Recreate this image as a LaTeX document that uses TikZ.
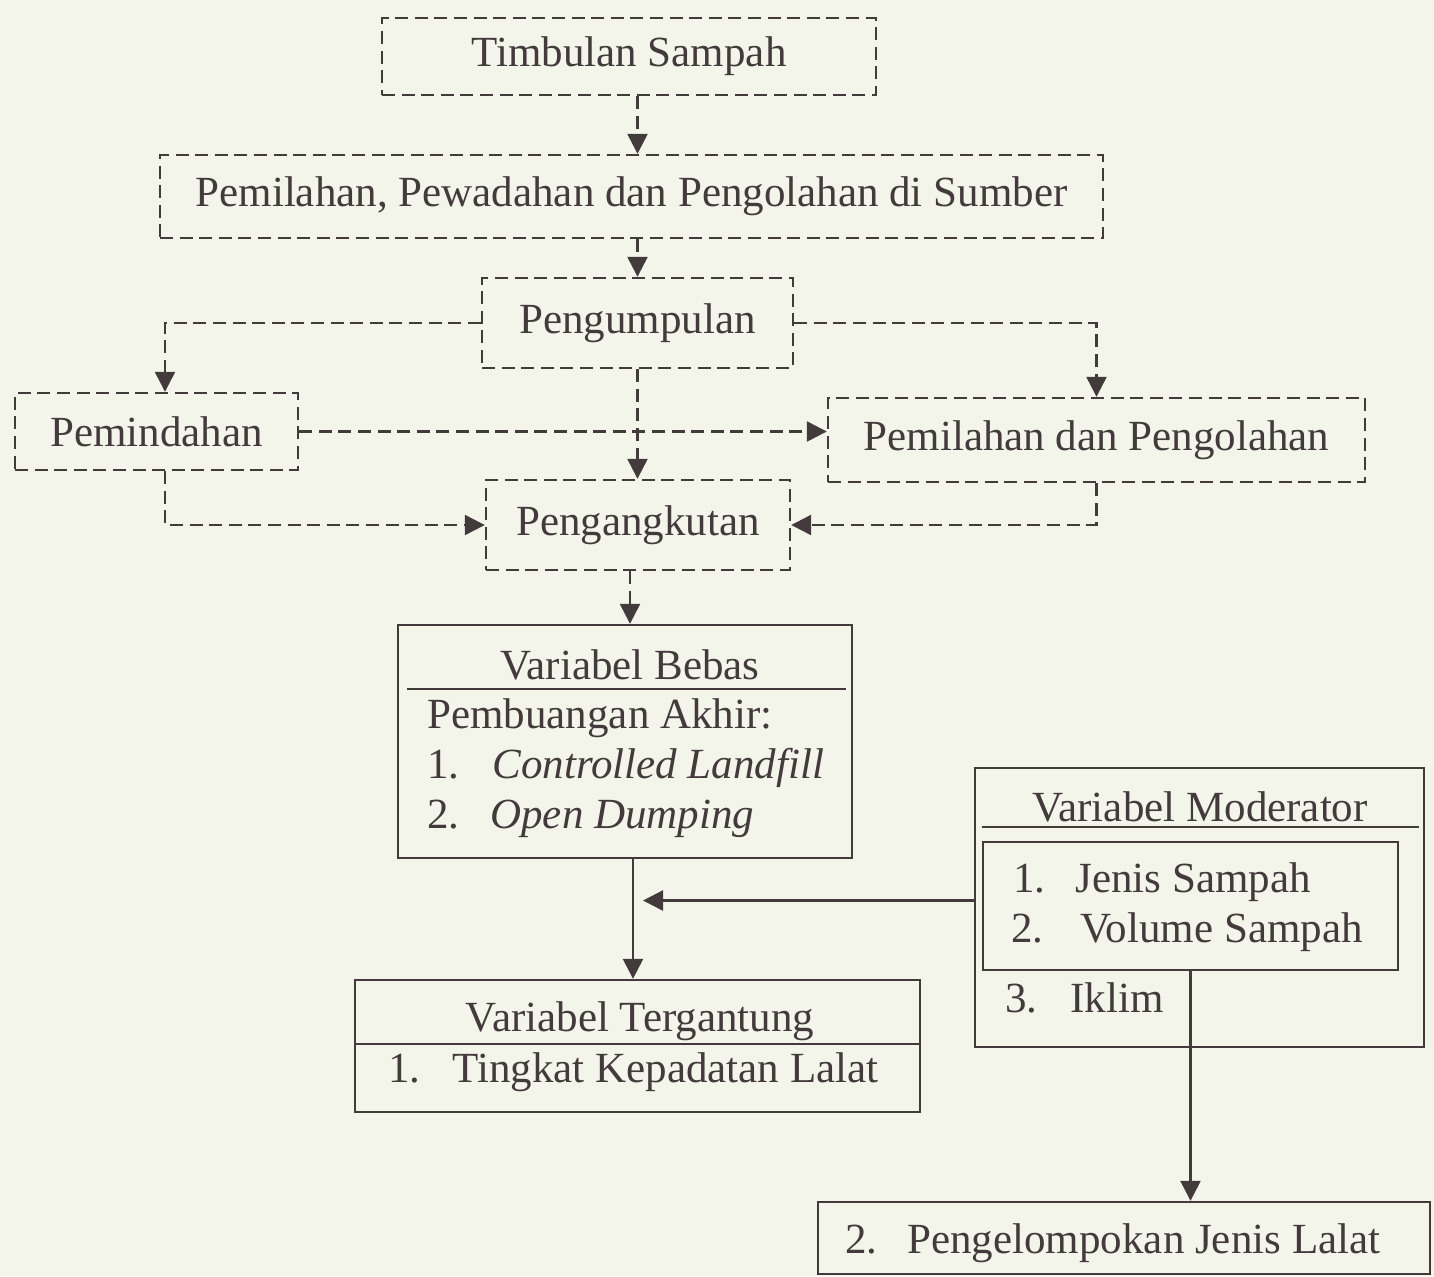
\documentclass[tikz,border=0pt]{standalone}
\usepackage{fontspec}
\setmainfont{Liberation Serif}
\usepackage{xcolor}
\usetikzlibrary{arrows.meta,positioning,calc}
\newcommand{\kfsize}{\fontsize{21.5}{25}\selectfont}
\definecolor{kfink}{HTML}{433A3C}
\definecolor{kfpaper}{HTML}{F3F5EB}
\tikzset{
  kfdashbox/.style={draw=kfink, line width=1.2pt, dash pattern=on 6.5pt off 3.3pt,
    inner sep=0pt, align=center},
  kfbox/.style={draw=kfink, line width=1.2pt, inner sep=0pt},
  kfdasharrow/.style={-{Triangle[length=10pt,width=10pt]}, line width=1.2pt,
    draw=kfink, dash pattern=on 6.5pt off 3.3pt},
  kfarrow/.style={-{Triangle[length=10pt,width=10pt]}, line width=1.2pt, draw=kfink},
  kfrule/.style={line width=1.2pt, draw=kfink},
  kftext/.style={inner sep=0pt, text=kfink}
}

\begin{document}
\begin{tikzpicture}[x=0.5pt, y=-0.5pt, every node/.style={font=\kfsize, text=kfink}]
  \fill[kfpaper] (0,0) rectangle (1434,1276);
  \useasboundingbox (0,0) rectangle (1434,1276);
  % alur pengelolaan sampah
  \node[kfdashbox, minimum width=247pt, minimum height=38.5pt] (timbulan) at (629,56.5) {Timbulan Sampah};
  \node[kfdashbox, minimum width=471.5pt, minimum height=41.5pt] (sumber) at (631.5,196.5) {Pemilahan, Pewadahan dan Pengolahan di Sumber};
  \node[kfdashbox, minimum width=155.5pt, minimum height=45pt] (kumpul) at (637.5,323) {Pengumpulan};
  \node[kfdashbox, minimum width=141.5pt, minimum height=38.5pt] (pindah) at (156.5,431.5) {Pemindahan};
  \node[kfdashbox, minimum width=268.5pt, minimum height=42pt] (olah) at (1096.5,440) {Pemilahan dan Pengolahan};
  \node[kfdashbox, minimum width=152pt, minimum height=45pt] (angkut) at (638,525) {Pengangkutan};
  \draw[kfdasharrow] (timbulan.south -| kumpul) -- (sumber.north -| kumpul);
  \draw[kfdasharrow] (sumber.south -| kumpul) -- (kumpul.north);
  \draw[kfdasharrow] (kumpul.west) -| ([xshift=4.25pt]pindah.north);
  \draw[kfdasharrow] (kumpul.east) -| (olah.north);
  \draw[kfdasharrow] (kumpul.south) -- (angkut.north -| kumpul);
  \draw[kfdasharrow] (pindah.east) -- (pindah.east -| olah.west);
  \draw[kfdasharrow] ([xshift=4.25pt]pindah.south) |- (angkut.west);
  \draw[kfdasharrow] (olah.south) |- (angkut.east);
  % variabel bebas
  \node[kfbox, minimum width=227pt, minimum height=116.5pt] (bebas) at (625,741.5) {};
  \node[kftext, anchor=base] (bebashead) at (630,679) {Variabel Bebas};
  \draw[kfrule] ($(bebas.north west)+(10,65)$) -- ($(bebas.north east)+(-7,65)$);
  \node[kftext, anchor=base west] (bebasakhir) at (427,728) {Pembuangan Akhir:};
  \node[kftext, anchor=base west] (bebasno1) at (427,778) {1.};
  \node[kftext, anchor=base west] (bebasctrl) at (492,778) {\itshape Controlled Landfill};
  \node[kftext, anchor=base west] (bebasno2) at (427,828) {2.};
  \node[kftext, anchor=base west] (bebasopen) at (490,828) {\itshape Open Dumping};
  \draw[kfdasharrow] (angkut.south -| bebashead) -- (bebas.north -| bebashead);
  % variabel tergantung
  \node[kfbox, minimum width=282.5pt, minimum height=66pt] (tergantung) at (637.5,1046) {};
  \node[kftext, anchor=base] (tgthead) at (640,1031) {Variabel Tergantung};
  \draw[kfrule] ($(tergantung.north west)+(0,65)$) -- ($(tergantung.north east)+(0,65)$);
  \node[kftext, anchor=base west] (tgtno1) at (388,1082) {1.};
  \node[kftext, anchor=base west] (tgtpadat) at (452,1082) {Tingkat Kepadatan Lalat};
  % variabel moderator
  \node[kfbox, minimum width=224.5pt, minimum height=139.5pt] (moderator) at (1199.5,907.5) {};
  \node[kftext, anchor=base] (modhead) at (1200,821) {Variabel Moderator};
  \draw[kfrule] ($(moderator.north west)+(8,60)$) -- ($(moderator.north east)+(-6,60)$);
  \node[kfbox, minimum width=207.5pt, minimum height=64pt] (modinner) at (1190.5,906) {};
  \node[kftext, anchor=base west] (modno1) at (1013,892) {1.};
  \node[kftext, anchor=base west] (modjenis) at (1075,892) {Jenis Sampah};
  \node[kftext, anchor=base west] (modno2) at (1011,942) {2.};
  \node[kftext, anchor=base west] (modvolume) at (1080,942) {Volume Sampah};
  \node[kftext, anchor=base west] (modno3) at (1005,1012) {3.};
  \node[kftext, anchor=base west] (modiklim) at (1070,1012) {Iklim};
  % pengelompokan
  \node[kfbox, minimum width=306pt, minimum height=36pt] (kelompok) at (1124,1238) {};
  \node[kftext, anchor=base west] (kelno2) at (845,1253) {2.};
  \node[kftext, anchor=base west] (keljenis) at (907,1253) {Pengelompokan Jenis Lalat};
  % panah garis penuh
  \coordinate (spine) at (633,0);
  \coordinate (modin) at ([yshift=3.5pt]moderator.west);
  \draw[kfarrow] (spine |- bebas.south) -- (spine |- tergantung.north);
  \draw[kfarrow, shorten >=5pt] (modin) -- (spine |- modin);
  \draw[kfarrow] (modinner.south) -- (modinner.south |- kelompok.north);
\end{tikzpicture}
\end{document}
